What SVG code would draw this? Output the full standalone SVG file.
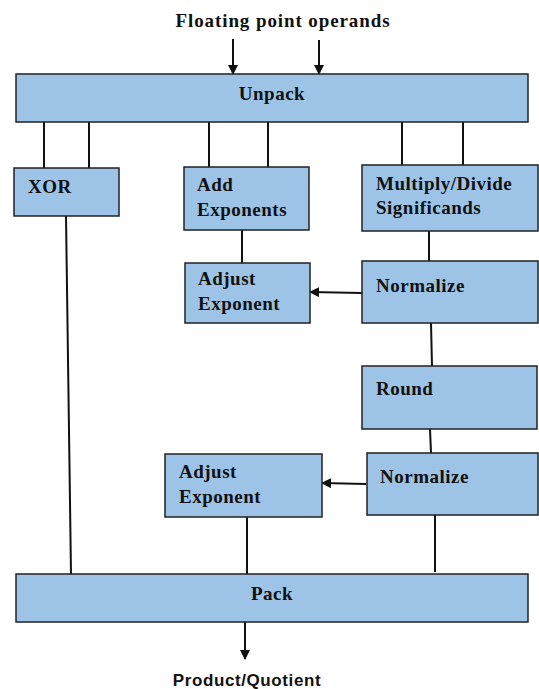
<svg xmlns="http://www.w3.org/2000/svg" width="539" height="689" viewBox="0 0 539 689">
<style>
.box{fill:#9dc3e6;stroke:#222;stroke-width:1.5}
.t{font-family:"Liberation Serif","Times New Roman",serif;font-weight:bold;font-size:19px;letter-spacing:0.5px;fill:#111}
.c{text-anchor:middle}
.ln{stroke:#111;stroke-width:2;fill:none}
.ar{stroke:#111;stroke-width:2;fill:none;marker-end:url(#ah)}
</style>
<defs>
<marker id="ah" viewBox="0 0 10 10" refX="9" refY="5" markerWidth="5" markerHeight="5" orient="auto" markerUnits="strokeWidth">
<path d="M0,0 L10,5 L0,10 z" fill="#111"/>
</marker>
</defs>
<text class="t c" x="283" y="27" font-size="18" style="letter-spacing:0.9px">Floating point operands</text>
<g id="connectors">
<line class="ar" x1="233" y1="39" x2="233" y2="74"/>
<line class="ar" x1="319" y1="40" x2="319" y2="74"/>
<line class="ln" x1="44" y1="122" x2="44" y2="168"/>
<line class="ln" x1="89" y1="122" x2="89" y2="168"/>
<line class="ln" x1="209" y1="122" x2="209" y2="167"/>
<line class="ln" x1="268" y1="122" x2="268" y2="167"/>
<line class="ln" x1="402" y1="122" x2="402" y2="165"/>
<line class="ln" x1="463" y1="122" x2="463" y2="165"/>
<line class="ln" x1="242" y1="230" x2="242" y2="263"/>
<line class="ln" x1="429" y1="231" x2="429" y2="261"/>
<line class="ar" x1="362" y1="293" x2="310" y2="292"/>
<line class="ln" x1="66" y1="216" x2="71" y2="574"/>
<line class="ln" x1="431" y1="323" x2="432" y2="366"/>
<line class="ln" x1="430" y1="429" x2="431" y2="453"/>
<line class="ar" x1="366" y1="484" x2="322" y2="483"/>
<line class="ln" x1="247" y1="517" x2="247" y2="574"/>
<line class="ln" x1="435" y1="515" x2="435" y2="572"/>
<line class="ar" x1="245" y1="622" x2="245" y2="659"/>
</g>
<g id="unpack"><rect class="box" x="16" y="74" width="512" height="48"/><text class="t c" x="272" y="100">Unpack</text></g>
<g id="xor"><rect class="box" x="14" y="168" width="105" height="48"/><text class="t" x="28" y="193">XOR</text></g>
<g id="add-exponents"><rect class="box" x="184" y="167" width="125" height="63"/><text class="t" x="197" y="191">Add</text><text class="t" x="197" y="216">Exponents</text></g>
<g id="multiply-divide"><rect class="box" x="362" y="165" width="176" height="66"/><text class="t" x="376" y="190">Multiply/Divide</text><text class="t" x="376" y="214">Significands</text></g>
<g id="adjust-exponent-1"><rect class="box" x="185" y="263" width="125" height="60"/><text class="t" x="198" y="285">Adjust</text><text class="t" x="198" y="310">Exponent</text></g>
<g id="normalize-1"><rect class="box" x="362" y="261" width="176" height="62"/><text class="t" x="376" y="292">Normalize</text></g>
<g id="round"><rect class="box" x="362" y="366" width="175" height="63"/><text class="t" x="376" y="395">Round</text></g>
<g id="adjust-exponent-2"><rect class="box" x="165" y="454" width="157" height="63"/><text class="t" x="179" y="478">Adjust</text><text class="t" x="179" y="503">Exponent</text></g>
<g id="normalize-2"><rect class="box" x="367" y="453" width="171" height="62"/><text class="t" x="380" y="483">Normalize</text></g>
<g id="pack"><rect class="box" x="16" y="574" width="512" height="48"/><text class="t c" x="272" y="600">Pack</text></g>
<text x="247" y="686" text-anchor="middle" font-family="Liberation Sans, Arial, sans-serif" font-weight="bold" font-size="17" letter-spacing="0.6" fill="#111">Product/Quotient</text>
</svg>
